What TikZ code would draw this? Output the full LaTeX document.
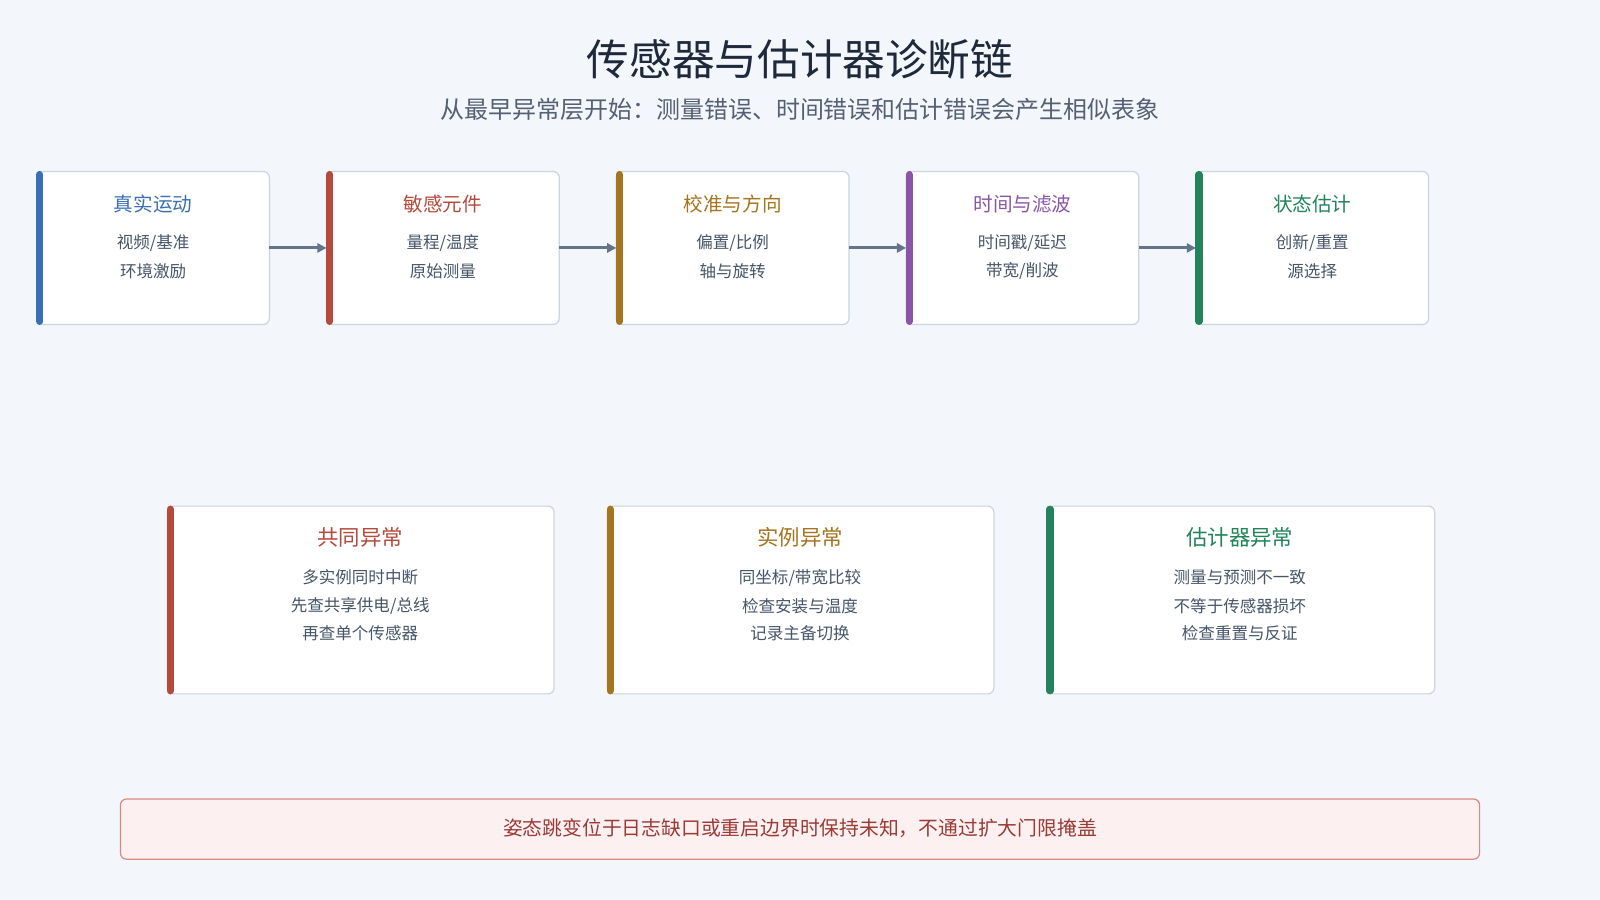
\documentclass[tikz,border=0pt]{standalone}
\usepackage{fontspec}
\setmainfont{Noto Sans CJK SC}
\newfontfamily\cjkmed{Noto Sans CJK SC Medium}
\usetikzlibrary{arrows.meta}
\definecolor{bg}{HTML}{F3F6FA}
\definecolor{bd}{HTML}{CBD5E1}
\definecolor{cB}{HTML}{3A6FB5}
\definecolor{cR}{HTML}{B54A3C}
\definecolor{cO}{HTML}{A6731F}
\definecolor{cP}{HTML}{8A55A8}
\definecolor{cG}{HTML}{21845A}
\definecolor{ar}{HTML}{64748B}
\definecolor{body}{HTML}{475569}
\definecolor{ttl}{HTML}{1E293B}
\definecolor{sub}{HTML}{556075}
\definecolor{fbg}{HTML}{FDF0F0}
\definecolor{fbd}{HTML}{D98A85}
\definecolor{ftx}{HTML}{9A3B36}
\begin{document}
\begin{tikzpicture}[x=1pt,y=-1pt,
  box/.style={draw=bd,line width=1.2pt,fill=white,rounded corners=6pt},
  bar/.style={line width=7pt,line cap=round},
  ht/.style={font=\fontsize{19.2}{22}\selectfont},
  bt/.style={font=\fontsize{16.2}{19}\selectfont,text=body,align=center},
  arr/.style={draw=ar,line width=3pt,-{Triangle[length=9pt,width=9pt]}}]
\fill[bg] (0,0) rectangle (1568,882);
\useasboundingbox (0,0) rectangle (1568,882);
\node[font=\fontsize{41.8}{46}\selectfont,text=ttl] (title) at (784,58) {传感器与估计器诊断链};
\node[font=\fontsize{23.5}{27}\selectfont,text=sub] (subtitle) at (784,107) {从最早异常层开始：测量错误、时间错误和估计错误会产生相似表象};
% top boxes
\foreach \n/\x/\c/\t/\a/\b in {1/36/cB/真实运动/视频\slash 基准/环境激励, 2/320/cR/敏感元件/量程\slash 温度/原始测量, 3/604/cO/校准与方向/偏置\slash 比例/轴与旋转, 4/888/cP/时间与滤波/时间戳\slash 延迟/带宽\slash 削波, 5/1172/cG/状态估计/创新\slash 重置/源选择}{
  \draw[box] (\x,168) rectangle (\x+228,318);
  \coordinate (L\n) at (\x,243);
  \coordinate (R\n) at (\x+228,243);
  \draw[bar,draw=\c] (\x+3,171) -- (\x+3,315);
  \node[ht,text=\c] (t\n) at (\x+114,200) {\t};
  \node[bt] (a\n) at (\x+114,238) {\a};
  \node[bt] (b\n) at (\x+114,266) {\b};
}
\draw[arr] (R1) -- (L2);
\draw[arr] (R2) -- (L3);
\draw[arr] (R3) -- (L4);
\draw[arr] (R4) -- (L5);
% bottom boxes
\foreach \n/\x/\w/\c/\t/\a/\b/\d in {1/164/379/cR/共同异常/多实例同时中断/先查共享供电\slash 总线/再查单个传感器, 2/595/379/cO/实例异常/同坐标\slash 带宽比较/检查安装与温度/记录主备切换, 3/1026/380/cG/估计器异常/测量与预测不一致/不等于传感器损坏/检查重置与反证}{
  \draw[box] (\x,496) rectangle (\x+\w,680);
  \draw[bar,draw=\c] (\x+3,499) -- (\x+3,677);
  \node[font=\fontsize{21}{24}\selectfont,text=\c] (u\n) at (\x+189,527) {\t};
  \node[bt] (p\n) at (\x+189,566) {\a};
  \node[bt] (q\n) at (\x+189,594) {\b};
  \node[bt] (r\n) at (\x+189,621) {\d};
}
% footer
\draw[draw=fbd,fill=fbg,line width=1.2pt,rounded corners=6pt] (118,783) rectangle (1450,842);
\node[font=\fontsize{19.4}{22}\selectfont,text=ftx] (foot) at (784,812) {姿态跳变位于日志缺口或重启边界时保持未知，不通过扩大门限掩盖};
\end{tikzpicture}
\end{document}
